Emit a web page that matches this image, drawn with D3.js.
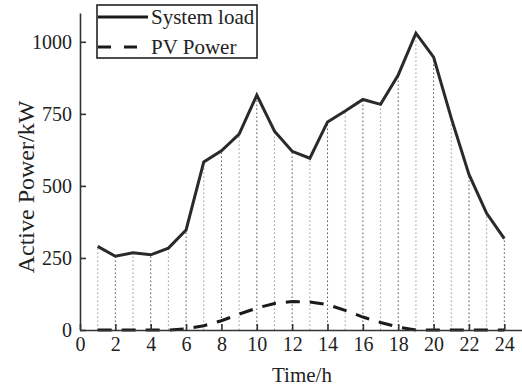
<!DOCTYPE html>
<html>
<head>
<meta charset="utf-8">
<script src="https://cdn.jsdelivr.net/npm/d3@7"></script>
</head>
<body style="margin:0;background:#fff">
<svg width="522" height="388" font-family="Liberation Serif">
  <text x="302" y="382" font-family="Liberation Serif" font-size="21" fill="#222" text-anchor="middle">Time/h</text>
  <text transform="translate(34,187) rotate(-90)" font-family="Liberation Serif" font-size="24" fill="#222" text-anchor="middle">Active Power/kW</text>
</svg>
<script>
// hours 1..24
var hours = d3.range(1, 25);
var loadValues = [290, 256, 268, 261, 284, 347, 583, 622, 680, 815, 690, 620, 596, 722, 760, 800, 783, 885, 1030, 947, 735, 540, 405, 317];
var pvValues = [0, 0, 0, 0, 0, 4, 15, 32, 55, 76, 92, 99, 97, 88, 68, 45, 26, 10, 0, 0, 0, 0, 0, 0];
var xTicks = [0, 2, 4, 6, 8, 10, 12, 14, 16, 18, 20, 22, 24];
var yTicks = [0, 250, 500, 750, 1000];
var legendNames = ['System load', 'PV Power'];

var font = 'Liberation Serif';
var svg = d3.select('svg');

var x = d3.scaleLinear().domain([0, 25]).range([80, 522]);
var y = d3.scaleLinear().domain([0, 1100]).range([330, 13]);

var load = hours.map(function (h, i) { return { h: h, v: loadValues[i] }; });
var pv = hours.map(function (h, i) { return { h: h, v: pvValues[i] }; });

// drop lines
svg.append('g')
    .selectAll('line')
    .data(load)
    .enter()
    .append('line')
    .attr('x1', function (d) { return x(d.h); })
    .attr('x2', function (d) { return x(d.h); })
    .attr('y1', y(0))
    .attr('y2', function (d) { return y(d.v); })
    .attr('stroke', function (d) { return d.h % 2 === 0 ? '#555' : '#999'; })
    .attr('stroke-width', 1)
    .attr('stroke-dasharray', '1.5,2.5');

var line = d3.line()
    .x(function (d) { return x(d.h); })
    .y(function (d) { return y(d.v); });

svg.append('path')
    .datum(pv)
    .attr('d', line)
    .attr('fill', 'none')
    .attr('stroke', '#1a1a1a')
    .attr('stroke-width', 3)
    .attr('stroke-dasharray', '14,10');

svg.append('path')
    .datum(load)
    .attr('d', line)
    .attr('fill', 'none')
    .attr('stroke', '#2a2a2a')
    .attr('stroke-width', 3);

// axes
var xAxis = svg.append('g')
    .attr('transform', 'translate(0,' + y(0) + ')')
    .call(d3.axisBottom(x).tickValues(xTicks).tickFormat(d3.format('d'))
        .tickSizeInner(-6).tickSizeOuter(0).tickPadding(10));
var yAxis = svg.append('g')
    .attr('transform', 'translate(' + x(0) + ',0)')
    .call(d3.axisLeft(y).tickValues(yTicks).tickFormat(d3.format('d'))
        .tickSizeInner(-6).tickSizeOuter(0).tickPadding(8));

[xAxis, yAxis].forEach(function (a) {
    a.attr('font-family', font).attr('font-size', 20);
    a.select('.domain').attr('stroke', '#333').attr('stroke-width', 1.6);
    a.selectAll('.tick line').attr('stroke', '#333').attr('stroke-width', 1.6);
    a.selectAll('.tick text').attr('fill', '#222');
});
xAxis.selectAll('.tick text').attr('dy', '0.71em').attr('y', 7);

// legend
var legend = svg.append('g');
legend.append('rect')
    .attr('x', 97).attr('y', 5)
    .attr('width', 160).attr('height', 53)
    .attr('fill', '#fff')
    .attr('stroke', '#222')
    .attr('stroke-width', 1.6);

var legendRows = legend.selectAll('g.row')
    .data(legendNames)
    .enter()
    .append('g')
    .attr('class', 'row')
    .attr('transform', function (d, i) { return 'translate(0,' + (17 + i * 30) + ')'; });

legendRows.append('line')
    .attr('x1', 98).attr('x2', 148)
    .attr('stroke', '#1a1a1a')
    .attr('stroke-width', 3)
    .attr('stroke-dasharray', function (d, i) { return i === 1 ? '13,13' : null; });

legendRows.append('text')
    .attr('x', 151)
    .attr('y', 7)
    .attr('font-family', font)
    .attr('font-size', 21)
    .attr('fill', '#222')
    .text(function (d) { return d; });
</script>
</body>
</html>
